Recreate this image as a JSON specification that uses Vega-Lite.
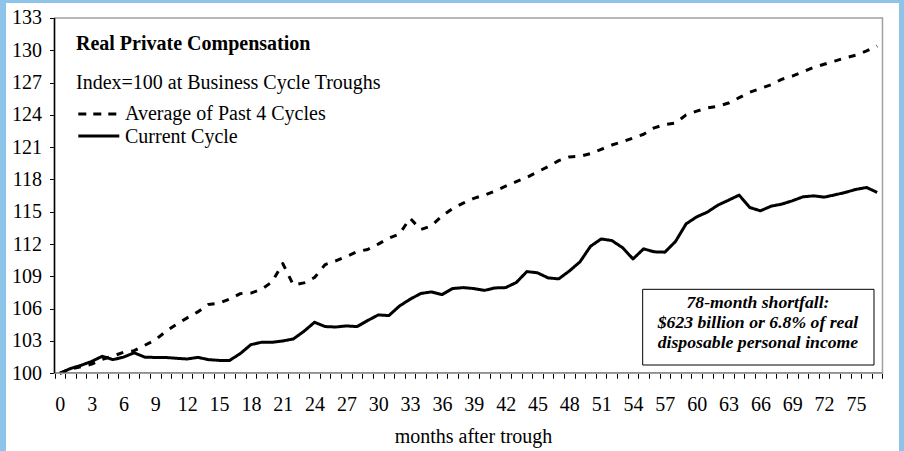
{
  "$schema": "https://vega.github.io/schema/vega-lite/v6.json",
  "width": 893,
  "height": 448,
  "autosize": {"type": "none"},
  "padding": {"left": 6, "top": 3, "right": 5, "bottom": 0},
  "background": "#8EC4EA",
  "config": {"view": {"fill": "white", "stroke": null}, "font": "Liberation Serif", "axis": {"labelOverlap": false, "labelFlush": false, "labelBound": false, "grid": false}},
  "resolve": {"axis": {"x": "independent", "y": "independent"}},
  "layer": [
    {
      "data": {"values": [
        {"month":0,"average":100.0,"current":100.0},
        {"month":1,"average":100.4,"current":100.44},
        {"month":2,"average":100.6,"current":100.74},
        {"month":3,"average":100.85,"current":101.1},
        {"month":4,"average":101.3,"current":101.58},
        {"month":5,"average":101.6,"current":101.27},
        {"month":6,"average":101.95,"current":101.5},
        {"month":7,"average":102.1,"current":101.9},
        {"month":8,"average":102.6,"current":101.5},
        {"month":9,"average":103.1,"current":101.47},
        {"month":10,"average":103.9,"current":101.47},
        {"month":11,"average":104.55,"current":101.39},
        {"month":12,"average":105.15,"current":101.33},
        {"month":13,"average":105.7,"current":101.48},
        {"month":14,"average":106.4,"current":101.27},
        {"month":15,"average":106.5,"current":101.2},
        {"month":16,"average":106.9,"current":101.2},
        {"month":17,"average":107.4,"current":101.83},
        {"month":18,"average":107.45,"current":102.66},
        {"month":19,"average":107.8,"current":102.88},
        {"month":20,"average":108.5,"current":102.88},
        {"month":21,"average":110.2,"current":103.0},
        {"month":22,"average":108.2,"current":103.19},
        {"month":23,"average":108.4,"current":103.9},
        {"month":24,"average":108.9,"current":104.74},
        {"month":25,"average":110.1,"current":104.34},
        {"month":26,"average":110.45,"current":104.3},
        {"month":27,"average":110.85,"current":104.4},
        {"month":28,"average":111.3,"current":104.34},
        {"month":29,"average":111.5,"current":104.9},
        {"month":30,"average":112.0,"current":105.42},
        {"month":31,"average":112.55,"current":105.36},
        {"month":32,"average":112.95,"current":106.25},
        {"month":33,"average":114.4,"current":106.88},
        {"month":34,"average":113.35,"current":107.41},
        {"month":35,"average":113.7,"current":107.56},
        {"month":36,"average":114.6,"current":107.31},
        {"month":37,"average":115.3,"current":107.87},
        {"month":38,"average":115.8,"current":107.96},
        {"month":39,"average":116.25,"current":107.87},
        {"month":40,"average":116.55,"current":107.7},
        {"month":41,"average":116.93,"current":107.93},
        {"month":42,"average":117.38,"current":107.96},
        {"month":43,"average":117.8,"current":108.43},
        {"month":44,"average":118.2,"current":109.45},
        {"month":45,"average":118.7,"current":109.33},
        {"month":46,"average":119.2,"current":108.86},
        {"month":47,"average":119.75,"current":108.77},
        {"month":48,"average":120.1,"current":109.5},
        {"month":49,"average":120.15,"current":110.35},
        {"month":50,"average":120.4,"current":111.8},
        {"month":51,"average":120.8,"current":112.48},
        {"month":52,"average":121.2,"current":112.33},
        {"month":53,"average":121.5,"current":111.68},
        {"month":54,"average":121.85,"current":110.62},
        {"month":55,"average":122.2,"current":111.56},
        {"month":56,"average":122.8,"current":111.28},
        {"month":57,"average":123.1,"current":111.25},
        {"month":58,"average":123.25,"current":112.24},
        {"month":59,"average":124.0,"current":113.88},
        {"month":60,"average":124.35,"current":114.53},
        {"month":61,"average":124.65,"current":114.97},
        {"month":62,"average":124.8,"current":115.62},
        {"month":63,"average":125.1,"current":116.08},
        {"month":64,"average":125.6,"current":116.55},
        {"month":65,"average":126.1,"current":115.4},
        {"month":66,"average":126.45,"current":115.09},
        {"month":67,"average":126.8,"current":115.52},
        {"month":68,"average":127.3,"current":115.71},
        {"month":69,"average":127.6,"current":116.02},
        {"month":70,"average":128.0,"current":116.39},
        {"month":71,"average":128.4,"current":116.48},
        {"month":72,"average":128.7,"current":116.36},
        {"month":73,"average":129.0,"current":116.57},
        {"month":74,"average":129.3,"current":116.8},
        {"month":75,"average":129.55,"current":117.08},
        {"month":76,"average":129.95,"current":117.26},
        {"month":77,"average":130.4,"current":116.8}
      ]},
      "transform": [{"fold": ["average", "current"], "as": ["series", "index"]}],
      "mark": {"type": "line", "color": "black", "strokeWidth": 3, "strokeJoin": "round"},
      "encoding": {
        "x": {
          "field": "month", "type": "quantitative",
          "scale": {"domain": [-5.069, 79.056], "nice": false, "zero": false},
          "axis": {
            "orient": "bottom", "offset": -77.7, "domain": false, "grid": false,
            "values": [-0.5,0.5,1.5,2.5,3.5,4.5,5.5,6.5,7.5,8.5,9.5,10.5,11.5,12.5,13.5,14.5,15.5,16.5,17.5,18.5,19.5,20.5,21.5,22.5,23.5,24.5,25.5,26.5,27.5,28.5,29.5,30.5,31.5,32.5,33.5,34.5,35.5,36.5,37.5,38.5,39.5,40.5,41.5,42.5,43.5,44.5,45.5,46.5,47.5,48.5,49.5,50.5,51.5,52.5,53.5,54.5,55.5,56.5,57.5,58.5,59.5,60.5,61.5,62.5,63.5,64.5,65.5,66.5,67.5,68.5,69.5,70.5,71.5,72.5,73.5,74.5,75.5,76.5,77.5],
            "labels": false,
            "ticks": true, "tickSize": 5, "tickColor": "black", "tickWidth": 1, "tickOpacity": 1,
            "title": null
          }
        },
        "y": {
          "field": "index", "type": "quantitative",
          "scale": {"domain": [92.783, 134.393], "nice": false, "zero": false},
          "axis": {
            "orient": "left", "offset": -48.5, "domain": false, "grid": false,
            "values": [100,103,106,109,112,115,118,121,124,127,130,133],
            "format": "d",
            "labelFont": "Liberation Serif", "labelFontSize": 20, "labelColor": "black", "labelPadding": 8,
            "ticks": true, "tickSize": 5, "tickColor": "black", "tickWidth": 1, "tickOpacity": 1, "title": null
          }
        },
        "strokeDash": {
          "field": "series", "type": "nominal",
          "scale": {"domain": ["average", "current"], "range": [[7, 8], [1, 0]]},
          "legend": null
        }
      }
    },
    {
      "data": {"values": [{}]},
      "mark": {"type": "rule", "color": "black", "strokeWidth": 1.5},
      "encoding": {
        "x": {
          "datum": -0.5,
          "axis": {
            "orient": "bottom", "offset": -77.7, "domain": false, "grid": false,
            "values": [0,3,6,9,12,15,18,21,24,27,30,33,36,39,42,45,48,51,54,57,60,63,66,69,72,75],
            "format": "d", "ticks": false,
            "labelFont": "Liberation Serif", "labelFontSize": 20, "labelColor": "black", "labelPadding": 21,
            "title": "months after trough", "titleFont": "Liberation Serif", "titleFontSize": 20,
            "titleFontWeight": "normal", "titleColor": "black", "titlePadding": 12, "titleX": 467
          }
        },
        "x2": {"datum": 77.5},
        "y": {"datum": 100, "axis": null}
      }
    },
    {
      "data": {"values": [{}]},
      "mark": {"type": "rect", "fill": "white", "fillOpacity": 0, "stroke": "#a0a0a0", "strokeWidth": 1.5},
      "encoding": {
        "x": {"datum": -0.5, "axis": null},
        "x2": {"datum": 77.5},
        "y": {"datum": 100, "axis": null},
        "y2": {"datum": 133}
      }
    },
    {
      "data": {"values": [{}]},
      "mark": {"type": "rule", "color": "black", "strokeWidth": 1.5},
      "encoding": {"x": {"datum": -0.5, "axis": null}, "y": {"datum": 100, "axis": null}, "y2": {"datum": 133}}
    },
    {
      "data": {"values": [{}]},
      "mark": {"type": "rule", "color": "black", "strokeWidth": 3, "strokeDash": [8, 7]},
      "encoding": {"x": {"datum": 1.742, "axis": null}, "x2": {"datum": 5.51}, "y": {"datum": 124.08, "axis": null}}
    },
    {
      "data": {"values": [{}]},
      "mark": {"type": "rule", "color": "black", "strokeWidth": 3},
      "encoding": {"x": {"datum": 1.742, "axis": null}, "x2": {"datum": 5.604}, "y": {"datum": 122.04, "axis": null}}
    },
    {
      "data": {"values": [{}]},
      "mark": {"type": "text", "text": "Average of Past 4 Cycles", "font": "Liberation Serif", "fontSize": 20, "align": "left", "baseline": "alphabetic", "color": "black"},
      "encoding": {"x": {"datum": 6.141, "axis": null}, "y": {"datum": 123.53, "axis": null}}
    },
    {
      "data": {"values": [{}]},
      "mark": {"type": "text", "text": "Current Cycle", "font": "Liberation Serif", "fontSize": 20, "align": "left", "baseline": "alphabetic", "color": "black"},
      "encoding": {"x": {"datum": 6.141, "axis": null}, "y": {"datum": 121.42, "axis": null}}
    },
    {
      "data": {"values": [{}]},
      "mark": {"type": "text", "text": "Real Private Compensation", "font": "Liberation Serif", "fontSize": 20, "fontWeight": "bold", "align": "left", "baseline": "alphabetic", "color": "black"},
      "encoding": {"x": {"datum": 1.525, "axis": null}, "y": {"datum": 130.03, "axis": null}}
    },
    {
      "data": {"values": [{}]},
      "mark": {"type": "text", "text": "Index=100 at Business Cycle Troughs", "font": "Liberation Serif", "fontSize": 20, "align": "left", "baseline": "alphabetic", "color": "black"},
      "encoding": {"x": {"datum": 1.525, "axis": null}, "y": {"datum": 126.37, "axis": null}}
    },
    {
      "data": {"values": [{}]},
      "mark": {"type": "rect", "fill": "white", "stroke": "black", "strokeWidth": 1},
      "encoding": {"x": {"datum": 54.91, "axis": null}, "x2": {"datum": 76.7}, "y": {"datum": 107.8, "axis": null}, "y2": {"datum": 100.77}}
    },
    {
      "data": {"values": [{}]},
      "mark": {"type": "text", "text": ["78-month shortfall:", "$623 billion or 6.8% of real", "disposable personal income"], "lineHeight": 19.8, "font": "Liberation Serif", "fontSize": 17.7, "fontWeight": "bold", "fontStyle": "italic", "align": "center", "baseline": "alphabetic", "color": "black"},
      "encoding": {"x": {"datum": 65.77, "axis": null}, "y": {"datum": 106.04, "axis": null}}
    }
  ]
}
